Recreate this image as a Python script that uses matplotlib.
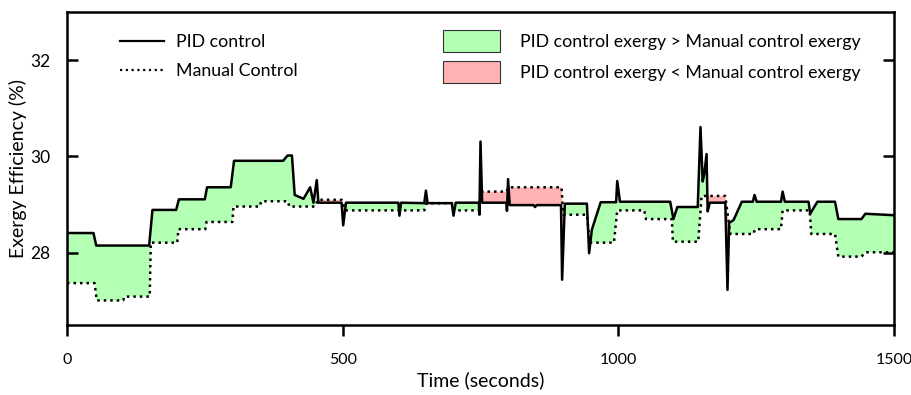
import numpy as np
import matplotlib
matplotlib.use("Agg")
import matplotlib.pyplot as plt
from matplotlib.lines import Line2D
from matplotlib.patches import Patch

plt.rcParams['font.family'] = ['Lato', 'DejaVu Sans']

# PID control exergy efficiency (%)
time_pid = [0, 48, 53, 149, 155, 198, 203, 250, 254, 297, 303, 392, 400, 408, 413,
            429, 441, 447, 453, 456, 498, 501, 506, 601, 603, 606, 648, 651, 654,
            698, 701, 705, 747, 748, 750, 753, 797, 798, 800, 803, 846, 849, 852,
            896, 898, 903, 943, 947, 952, 968, 996, 998, 1003, 1094, 1100, 1107,
            1144, 1149, 1153, 1156, 1160, 1162, 1166, 1194, 1198, 1201, 1209, 1224,
            1244, 1247, 1251, 1295, 1298, 1302, 1345, 1348, 1361, 1393, 1399, 1441,
            1448, 1500]
pid = [28.41, 28.41, 28.15, 28.15, 28.89, 28.89, 29.11, 29.11, 29.36, 29.36, 29.91,
       29.91, 30.02, 30.02, 29.20, 29.12, 29.36, 29.04, 29.51, 29.04, 29.04, 28.57,
       29.04, 29.04, 28.77, 29.04, 29.03, 29.29, 29.03, 29.03, 28.77, 29.04, 29.04,
       28.79, 30.31, 29.04, 29.04, 28.87, 29.53, 28.99, 28.99, 28.95, 28.99, 28.99,
       27.44, 29.02, 29.02, 27.99, 28.48, 29.05, 29.05, 29.49, 29.06, 29.06, 28.70,
       28.95, 28.95, 30.61, 29.48, 29.65, 30.05, 28.86, 29.04, 29.04, 27.23, 28.62,
       28.68, 29.06, 29.06, 29.20, 29.06, 29.06, 29.27, 29.06, 29.06, 28.81, 29.06,
       29.06, 28.70, 28.70, 28.81, 28.78]

# Manual control exergy efficiency (%)
time_manual = [0, 50, 54, 102, 104, 150, 152, 200, 202, 251, 253, 300, 302, 350, 352,
               401, 403, 450, 455, 498, 505, 648, 652, 698, 702, 747, 752, 797, 801,
               897, 900, 943, 948, 992, 998, 1047, 1050, 1097, 1099, 1145, 1151, 1194,
               1203, 1245, 1248, 1295, 1298, 1347, 1350, 1393, 1399, 1441, 1448, 1500]
manual = [27.37, 27.37, 27.01, 27.01, 27.09, 27.09, 28.21, 28.21, 28.49, 28.49, 28.64,
          28.64, 28.96, 28.96, 29.07, 29.07, 28.96, 28.96, 29.10, 29.10, 28.88, 28.88,
          29.03, 29.03, 28.88, 28.88, 29.27, 29.27, 29.36, 29.36, 28.79, 28.79, 28.21,
          28.21, 28.88, 28.88, 28.70, 28.70, 28.23, 28.23, 29.18, 29.18, 28.39, 28.39,
          28.49, 28.49, 28.88, 28.88, 28.39, 28.39, 27.92, 27.92, 28.01, 28.01]

x_ticks = [0, 500, 1000, 1500]
y_ticks = [28, 30, 32]

GREEN = '#b3ffb3'
RED = '#ffb3b3'

fig = plt.figure(figsize=(9.11, 3.95), dpi=100)
ax = fig.add_axes([67/911, 1-325/395, (894-67)/911, (325-12)/395])

# common grid for filling between the two piecewise-linear curves
grid = np.union1d(np.asarray(time_pid, float), np.asarray(time_manual, float))
p_g = np.interp(grid, time_pid, pid)
m_g = np.interp(grid, time_manual, manual)
ax.fill_between(grid, p_g, m_g, where=p_g >= m_g, interpolate=True,
                facecolor=GREEN, edgecolor='none', zorder=1)
ax.fill_between(grid, p_g, m_g, where=p_g < m_g, interpolate=True,
                facecolor=RED, edgecolor='none', zorder=1)

ax.plot(time_pid, pid, color='black', lw=1.8, ls='-', zorder=3)
ax.plot(time_manual, manual, color='black', lw=1.8, ls=(0, (1, 1.6)), zorder=2)

ax.set_xlim(0, 1500)
ax.set_ylim(26.5, 33.0)
ax.set_xticks(x_ticks)
ax.set_yticks(y_ticks)
ax.tick_params(axis='x', direction='out', length=8, width=1.8, pad=12,
               labelsize=11.5, top=False)
ax.tick_params(axis='y', direction='in', length=8, width=1.8, pad=12,
               labelsize=12.5, right=True)
for s in ax.spines.values():
    s.set_linewidth(1.8)

ax.set_xlabel('Time (seconds)', fontsize=14, labelpad=3)
ax.set_ylabel('Exergy Efficiency (%)', fontsize=14, labelpad=2)

h1 = [Line2D([], [], color='black', lw=1.6, ls='-'),
      Line2D([], [], color='black', lw=1.6, ls=(0, (1, 1.6)))]
leg1 = ax.legend(h1, ['PID control', 'Manual Control'], loc='upper left',
                 bbox_to_anchor=(0.064, 0.93), frameon=False, fontsize=12.8,
                 handlelength=2.5, handletextpad=0.67, labelspacing=0.75,
                 borderpad=0, borderaxespad=0)
ax.add_artist(leg1)

h2 = [Patch(facecolor=GREEN, edgecolor='#333333', lw=0.8),
      Patch(facecolor=RED, edgecolor='#333333', lw=0.8)]
ax.legend(h2, ['PID control exergy > Manual control exergy',
               'PID control exergy < Manual control exergy'],
          loc='upper left', bbox_to_anchor=(0.4547, 0.9425), frameon=False,
          fontsize=12.8, handlelength=3.2, handleheight=1.55, handletextpad=1.12,
          labelspacing=0.5, borderpad=0, borderaxespad=0)

fig.savefig('out.png', dpi=100)
